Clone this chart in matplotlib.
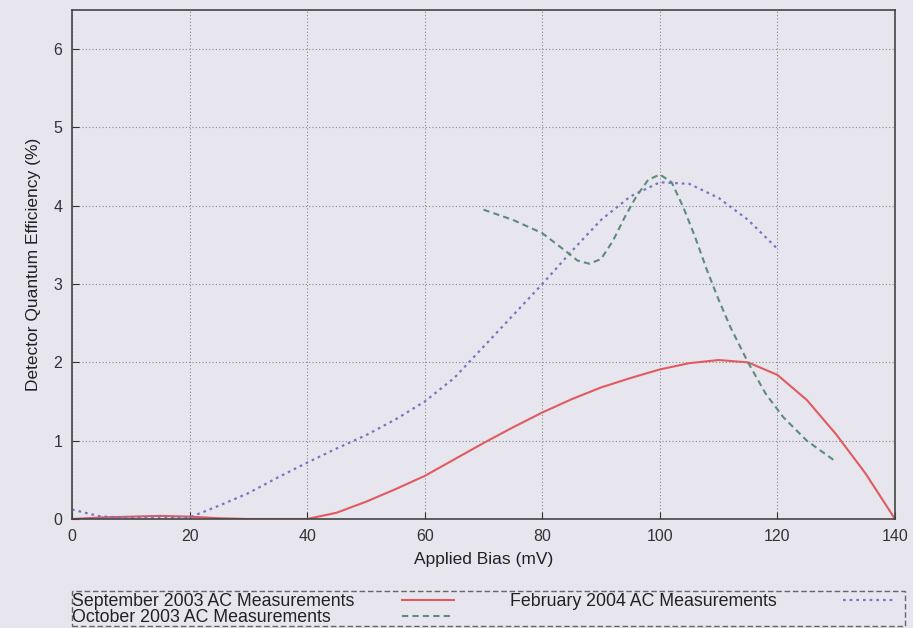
import numpy as np
import matplotlib.pyplot as plt
from matplotlib.lines import Line2D
from matplotlib.patches import Rectangle

plt.rcParams['font.family'] = ['Liberation Sans', 'DejaVu Sans']

# September 2003 AC
sep_x = [0, 5, 10, 15, 20, 25, 30, 35, 40, 45, 50, 55, 60, 65, 70, 75, 80, 85, 90,
         95, 100, 105, 110, 115, 120, 125, 130, 135, 140]
sep_y = [0.0, 0.02, 0.03, 0.04, 0.03, 0.01, 0.0, 0.0, 0.0, 0.08, 0.22, 0.38, 0.55,
         0.76, 0.97, 1.17, 1.36, 1.53, 1.68, 1.80, 1.91, 1.99, 2.03, 2.0, 1.84, 1.52,
         1.08, 0.58, 0.0]

# February 2004 AC
feb_x = [0, 5, 10, 15, 20, 25, 30, 35, 40, 45, 50, 55, 60, 65, 70, 75, 80, 85, 90,
         95, 100, 105, 110, 115, 120]
feb_y = [0.12, 0.03, 0.02, 0.02, 0.02, 0.17, 0.33, 0.53, 0.72, 0.9, 1.07, 1.27, 1.5,
         1.8, 2.2, 2.6, 3.0, 3.42, 3.82, 4.12, 4.3, 4.28, 4.1, 3.82, 3.45]

# October 2003 AC
oct_x = [70, 75, 80, 84, 86, 88, 90, 92, 94, 96, 98, 100, 102, 104, 106, 108, 110,
         112, 115, 118, 121, 125, 130]
oct_y = [3.95, 3.82, 3.65, 3.42, 3.3, 3.26, 3.32, 3.55, 3.85, 4.12, 4.33, 4.4, 4.3,
         3.98, 3.6, 3.18, 2.8, 2.45, 2.0, 1.6, 1.3, 1.0, 0.73]

labels = ['September 2003 AC Measurements', 'February 2004 AC Measurements',
          'October 2003 AC Measurements']

W, H = 913, 628
bg = '#e7e6ef'
fig = plt.figure(figsize=(W / 100, H / 100), dpi=100, facecolor=bg)
ax = fig.add_axes([72 / W, 1 - 519 / H, (895 - 72) / W, (519 - 10) / H], facecolor=bg)

styles = [dict(color='#e05a5f', lw=1.5, ls='-'),
          dict(color='#7676c4', lw=1.6, ls=(0, (1.2, 1.8))),
          dict(color='#5d8c7c', lw=1.5, ls=(0, (3, 2)))]

ax.plot(sep_x, sep_y, **styles[0])
ax.plot(feb_x, feb_y, **styles[1])
ax.plot(oct_x, oct_y, **styles[2])

ax.set_xlim(0, 140)
ax.set_ylim(0, 6.5)
ax.set_xticks(np.arange(0, 141, 20))
ax.set_yticks(np.arange(0, 7, 1))
ax.grid(True, color='#8a8a8a', ls=(0, (1, 2)), lw=0.8)
ax.tick_params(direction='in', length=5, labelsize=11.5, colors='#333333', pad=7)
for s in ax.spines.values():
    s.set_color('#444444')
    s.set_linewidth(1.2)

ax.set_xlabel('Applied Bias (mV)', fontsize=12.5, color='#222222', labelpad=6)
ax.set_ylabel('Detector Quantum Efficiency (%)', fontsize=12.5, color='#222222', labelpad=9)

# gnuplot style key under the plot
fx = lambda px: px / W
fy = lambda py: 1 - py / H
fig.add_artist(Rectangle((fx(72), fy(626)), fx(905) - fx(72), fy(591) - fy(626),
                         transform=fig.transFigure, fill=False, ec='#666666', lw=1.0,
                         ls=(0, (4, 2))))
rows = [(labels[0], 72, 602, 402, 454, styles[0]),
        (labels[1], 510, 602, 843, 893, styles[1]),
        (labels[2], 72, 618, 402, 454, styles[2])]
for text, tx, ty, x0, x1, st in rows:
    fig.text(fx(tx), fy(ty), text, fontsize=12.8, color='#222222', ha='left', va='center')
    fig.add_artist(Line2D([fx(x0), fx(x1)], [fy(ty - 2), fy(ty - 2)],
                          transform=fig.transFigure, **st))

fig.savefig('out.png', dpi=100, facecolor=bg)
